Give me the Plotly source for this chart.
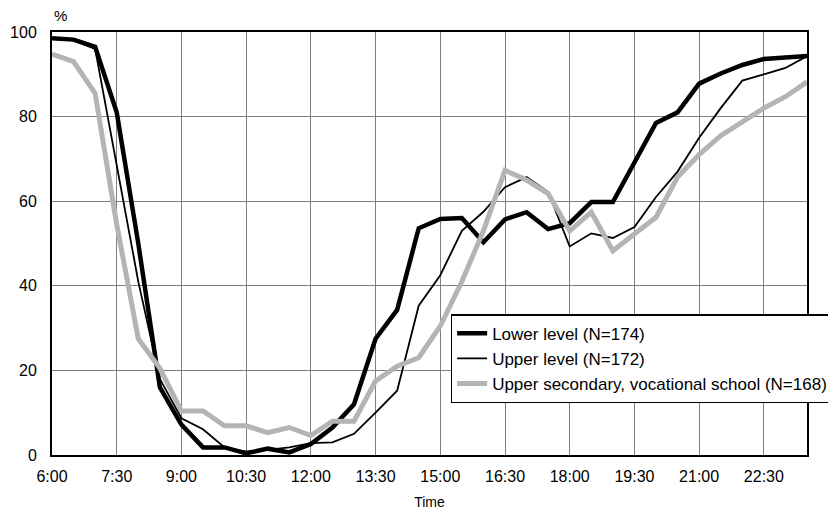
import plotly.graph_objects as go

# ── Palette ─────────────────────────────────────────────
INK   = "#000000"
GREY  = "#b4b4b4"
GRID  = "#808080"
FONT  = "Liberation Sans, Arial, sans-serif"

# ── Data (half-hour readings, % at home) ───────────────
times = ["6:00", "6:30", "7:00", "7:30", "8:00", "8:30", "9:00", "9:30",
         "10:00", "10:30", "11:00", "11:30", "12:00", "12:30", "13:00", "13:30",
         "14:00", "14:30", "15:00", "15:30", "16:00", "16:30", "17:00", "17:30",
         "18:00", "18:30", "19:00", "19:30", "20:00", "20:30", "21:00", "21:30",
         "22:00", "22:30", "23:00", "23:30"]

lower_level = [98.5, 98.2, 96.5, 81.0, 50.0, 16.0, 7.2, 1.8,
               1.8, 0.4, 1.5, 0.6, 2.6, 6.5, 12.0, 27.5,
               34.3, 53.6, 55.8, 56.0, 50.3, 55.7, 57.4, 53.4,
               54.8, 59.8, 59.8, 69.2, 78.5, 81.0, 87.8, 90.2,
               92.2, 93.6, 94.0, 94.3]

upper_level = [98.5, 98.0, 96.0, 68.5, 41.0, 18.0, 8.7, 6.1,
               1.8, 0.8, 1.2, 1.8, 2.8, 3.0, 5.0, 10.0,
               15.2, 35.3, 42.5, 53.0, 57.5, 63.3, 65.7, 62.2,
               49.3, 52.4, 51.3, 53.9, 61.0, 67.0, 75.0, 82.0,
               88.5, 90.0, 91.5, 94.3]

vocational = [94.8, 93.0, 85.5, 54.5, 27.5, 20.5, 10.4, 10.4,
              6.9, 6.9, 5.3, 6.5, 4.6, 8.0, 8.0, 17.5,
              21.0, 23.0, 30.5, 41.0, 53.0, 67.3, 65.0, 61.8,
              53.0, 57.4, 48.3, 52.4, 56.2, 65.7, 71.0, 75.5,
              78.8, 82.0, 84.7, 88.2]

tick_labels = ["6:00", "7:30", "9:00", "10:30", "12:00", "13:30",
               "15:00", "16:30", "18:00", "19:30", "21:00", "22:30"]


def to_hours(label):
    h, m = label.split(":")
    return int(h) + int(m) / 60


x = [to_hours(t) for t in times]
tick_vals = [to_hours(t) for t in tick_labels]

fig = go.Figure()

fig.add_trace(go.Scatter(
    x=x, y=lower_level, mode="lines", name="Lower level (N=174)",
    line=dict(color=INK, width=4.5),
))
fig.add_trace(go.Scatter(
    x=x, y=upper_level, mode="lines", name="Upper level (N=172)",
    line=dict(color=INK, width=1.8),
))
fig.add_trace(go.Scatter(
    x=x, y=vocational, mode="lines",
    name="Upper secondary, vocational school (N=168)",
    line=dict(color=GREY, width=5),
))

# page body adds an 8px offset, so the figure is sized 8px smaller
fig.update_layout(
    width=828, height=502,
    paper_bgcolor="white", plot_bgcolor="white",
    font=dict(family=FONT, color=INK, size=16),
    margin=dict(l=44, r=29, t=24, b=55, autoexpand=False),
    xaxis=dict(
        range=[6, 23.5], tickvals=tick_vals, ticktext=tick_labels,
        showgrid=True, gridcolor=GRID, gridwidth=1,
        showline=True, linecolor=INK, linewidth=2, mirror=True,
        ticks="", zeroline=False, ticklabelstandoff=6, automargin=False,
        title=dict(text="Time", font=dict(size=14), standoff=15),
    ),
    yaxis=dict(
        range=[0, 100], tickvals=[0, 20, 40, 60, 80, 100],
        showgrid=True, gridcolor=GRID, gridwidth=1,
        showline=True, linecolor=INK, linewidth=2, mirror=True,
        ticks="", zeroline=False, ticklabelstandoff=10, automargin=False,
    ),
    legend=dict(
        x=0.528, y=0.333, xanchor="left", yanchor="top",
        bgcolor="white", bordercolor=INK, borderwidth=1.5,
        font=dict(size=17), itemwidth=30,
    ),
    annotations=[dict(
        text="%", xref="paper", yref="paper", x=0.0, y=1.0,
        xanchor="left", yanchor="bottom", yshift=6, showarrow=False,
        font=dict(size=15),
    )],
)

fig.write_html("out.html")
